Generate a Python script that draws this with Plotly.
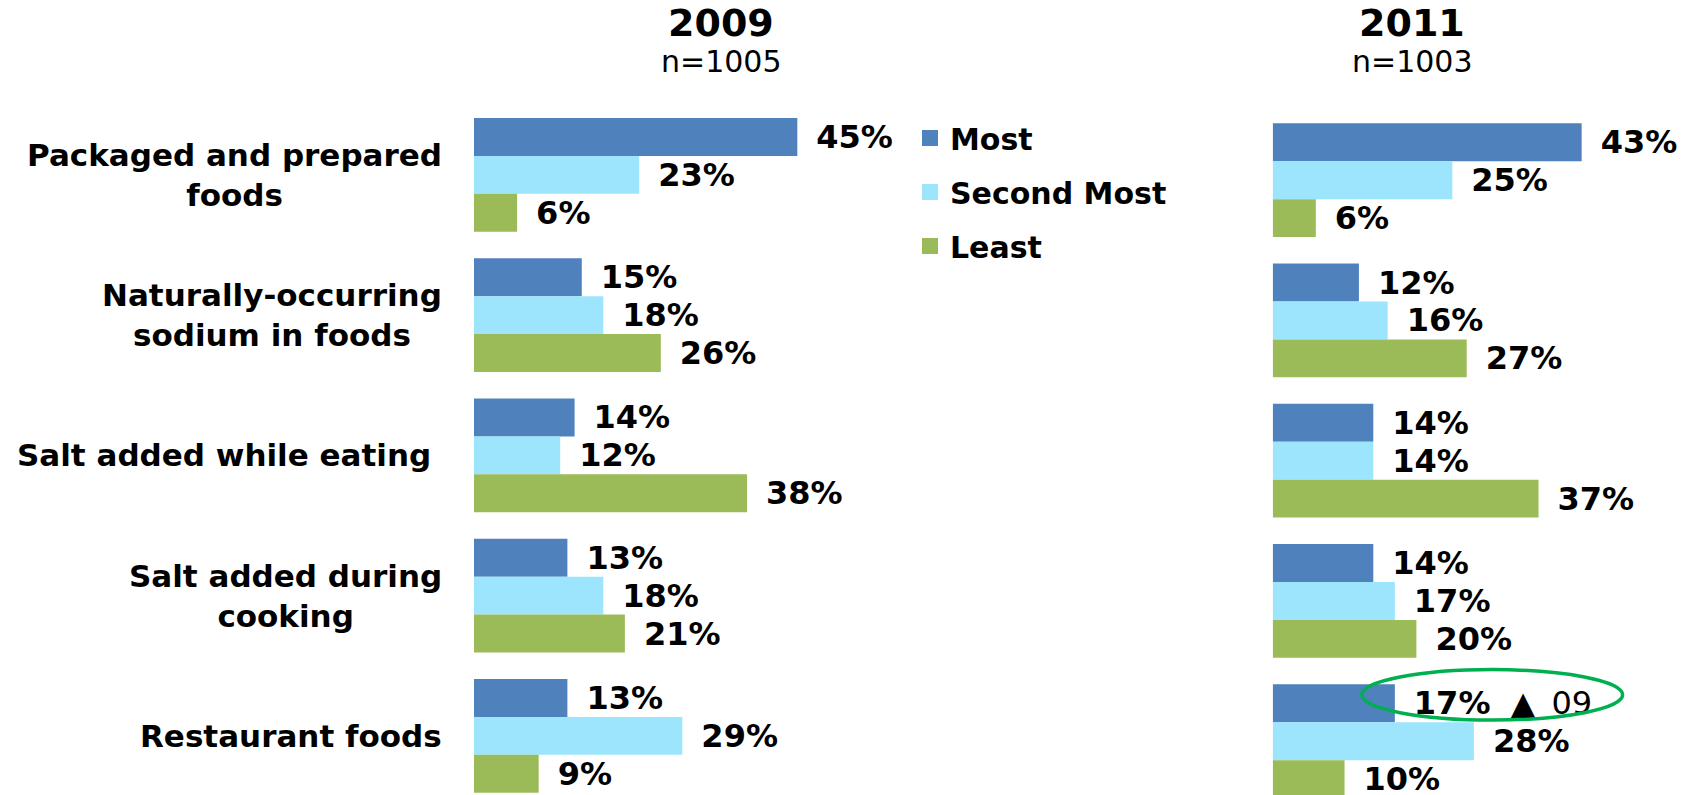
import plotly.graph_objects as go

categories = ["Packaged and prepared<br>foods", "Naturally-occurring<br>sodium in foods",
              "Salt added while eating\u00a0", "Salt added during<br>cooking", "Restaurant foods"]
series = ["Most", "Second Most", "Least"]
colors = ["#4F81BD", "#9CE5FD", "#9BBB59"]

most_2009 = [45, 15, 14, 13, 13]
second_2009 = [23, 18, 12, 18, 29]
least_2009 = [6, 26, 38, 21, 9]

most_2011 = [43, 12, 14, 14, 17]
second_2011 = [25, 16, 14, 17, 28]
least_2011 = [6, 27, 37, 20, 10]

# change vs 2009 flagged on the chart
flags_2011_most = ["", "", "", "", "\u25B2\u2002" + "09"]

years = ["2009", "2011"]
sample_sizes = ["n=1005", "n=1003"]

W, H = 1689, 795
FONT = "DejaVu Sans"
px_per_pct = 7.185
bargap = 0.189
period = 140.25
xmax = 52

def px_x(p):
    return p / W

def px_y(p):
    return 1 - p / H

def yrange(top_px):
    c0 = top_px + (1 - bargap) * period / 2
    return [(H - c0) / period, -c0 / period]

def labels(vals, flags=None):
    out = []
    for i, v in enumerate(vals):
        s = "\u2002<b>%d%%</b>" % v
        if flags and flags[i]:
            s += "\u00a0\u00a0" + flags[i]
        out.append(s)
    return out

fig = go.Figure()

data_2009 = [most_2009, second_2009, least_2009]
data_2011 = [most_2011, second_2011, least_2011]

for k, name in enumerate(series):
    fig.add_trace(go.Bar(
        y=categories, x=data_2009[k], orientation="h", name=name,
        marker=dict(color=colors[k], line=dict(width=0)),
        text=labels(data_2009[k]), textposition="outside", constraintext="none",
        cliponaxis=False, textfont=dict(family=FONT, size=32, color="black"),
        legendgroup=name, showlegend=False, xaxis="x", yaxis="y", hoverinfo="skip"))

for k, name in enumerate(series):
    fl = flags_2011_most if k == 0 else None
    fig.add_trace(go.Bar(
        y=categories, x=data_2011[k], orientation="h", name=name,
        marker=dict(color=colors[k], line=dict(width=0)),
        text=labels(data_2011[k], fl), textposition="outside", constraintext="none",
        cliponaxis=False, textfont=dict(family=FONT, size=32, color="black"),
        legendgroup=name, showlegend=False, xaxis="x2", yaxis="y2", hoverinfo="skip"))

# legend-only entries (bigger square swatches than the bar legend gives)
for k, name in enumerate(series):
    fig.add_trace(go.Scatter(
        x=[None], y=[None], mode="markers", name=name,
        marker=dict(symbol="square", size=18, color=colors[k]),
        legendgroup=name, showlegend=True, xaxis="x", yaxis="y"))

x1_left = 474
x2_left = 1272.7

annotations = []
for c in categories:
    annotations.append(dict(text=c, x=px_x(444), xref="paper", xanchor="right",
                            y=c, yref="y", yanchor="middle", align="center", showarrow=False,
                            font=dict(family=FONT, size=31, color="black", weight="bold")))

title_x = [721, 1412]
for i in range(2):
    annotations.append(dict(text="<b>%s</b>" % years[i], x=px_x(title_x[i]), xref="paper",
                            xanchor="center", y=px_y(23), yref="paper", yanchor="middle",
                            showarrow=False, font=dict(family=FONT, size=38, color="black")))
    annotations.append(dict(text=sample_sizes[i], x=px_x(title_x[i]), xref="paper",
                            xanchor="center", y=px_y(62), yref="paper", yanchor="middle",
                            showarrow=False, font=dict(family=FONT, size=30, color="black")))

# highlight ellipse around the flagged 2011 value
bar_w = (1 - bargap) / 3
hi = 4
yc = hi - bar_w - 0.06
shapes = [dict(type="circle", xref="x2", yref="y2",
               x0=most_2011[hi] - 4.6, x1=most_2011[hi] + 31.7,
               y0=yc - 0.18, y1=yc + 0.18,
               line=dict(color="#00B050", width=3.5))]

fig.update_layout(
    width=W, height=H,
    margin=dict(l=0, r=0, t=0, b=0),
    paper_bgcolor="white", plot_bgcolor="white",
    barmode="group", bargap=bargap, bargroupgap=0,
    xaxis=dict(domain=[px_x(x1_left), px_x(x1_left + xmax * px_per_pct)], range=[0, xmax],
               visible=False, anchor="y"),
    yaxis=dict(domain=[0, 1], type="category", categoryarray=categories,
               range=yrange(118), visible=False, anchor="x"),
    xaxis2=dict(domain=[px_x(x2_left), px_x(x2_left + xmax * px_per_pct)], range=[0, xmax],
                visible=False, anchor="y2"),
    yaxis2=dict(domain=[0, 1], type="category", categoryarray=categories,
                range=yrange(123.3), visible=False, anchor="x2"),
    legend=dict(x=px_x(910), y=px_y(112), xanchor="left", yanchor="top",
                traceorder="grouped", tracegroupgap=12, bgcolor="rgba(0,0,0,0)",
                font=dict(family=FONT, size=30, color="black", weight="bold"),
                itemclick=False),
    annotations=annotations,
    shapes=shapes,
    showlegend=True,
)

fig.write_html("out.html", config={"displayModeBar": False},
               post_script="document.body.style.margin='0';")
